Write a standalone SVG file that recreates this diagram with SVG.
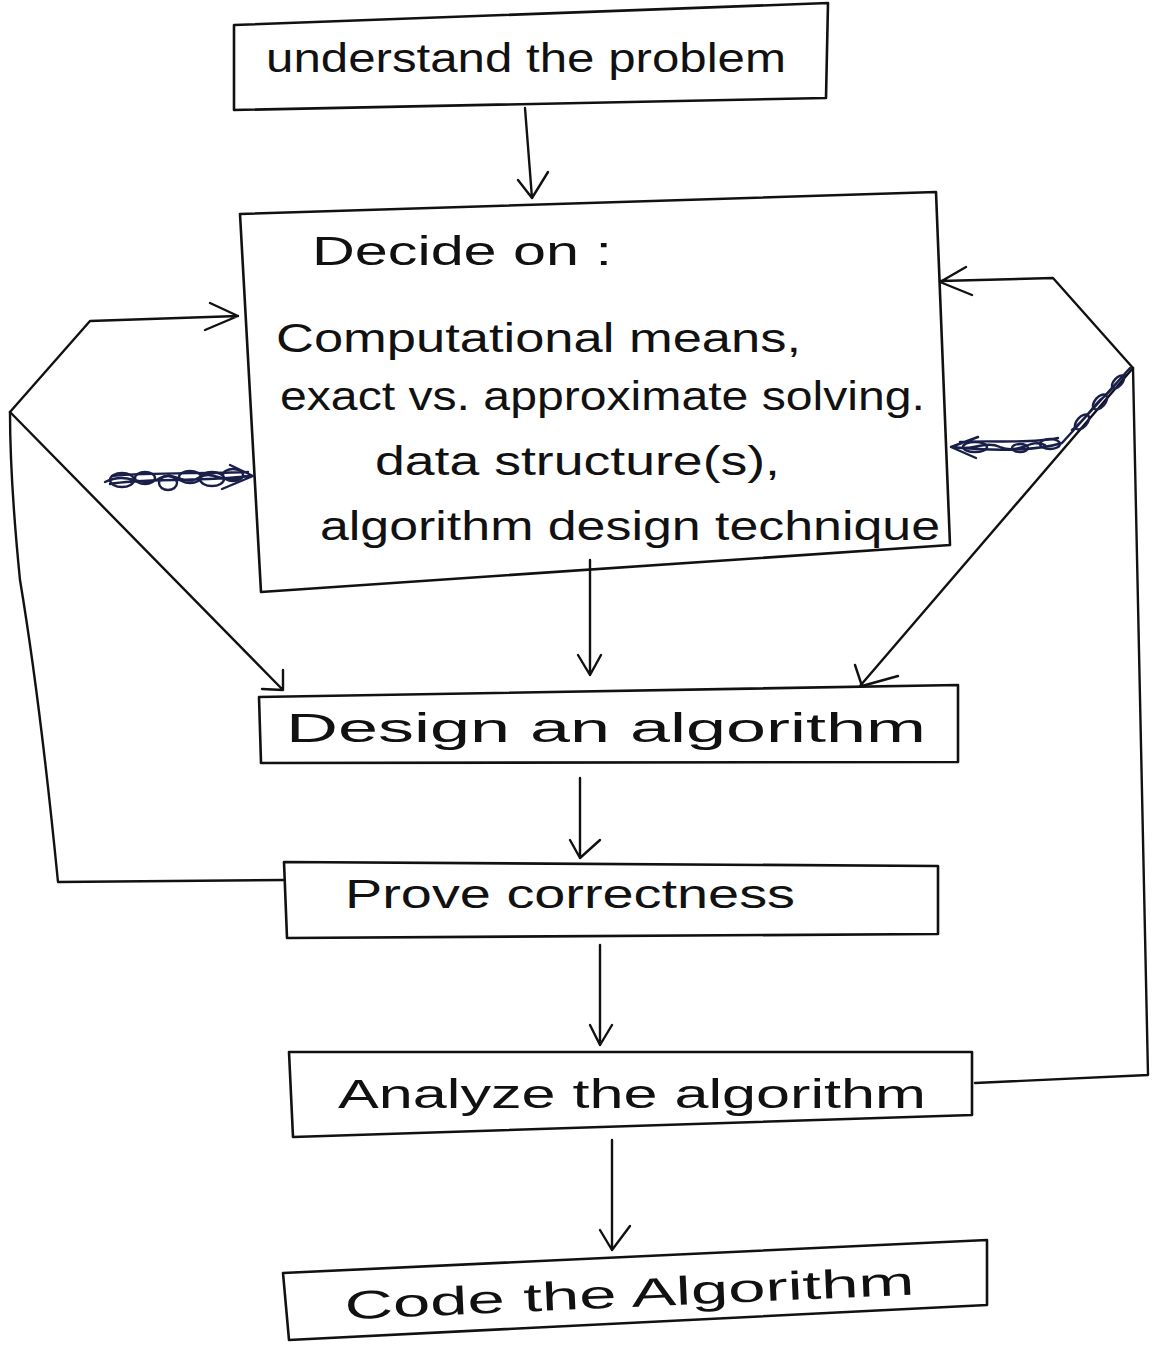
<svg xmlns="http://www.w3.org/2000/svg" width="1159" height="1349" viewBox="0 0 1159 1349">
<style>
.box{fill:none;stroke:#111;stroke-width:2.6;stroke-linejoin:round}
.ln{fill:none;stroke:#111;stroke-width:2.4;stroke-linecap:round;stroke-linejoin:round}
.scr{fill:none;stroke:#1a1f4a;stroke-width:2.4;stroke-linecap:round;stroke-linejoin:round}
.t{font-family:"Liberation Sans","DejaVu Sans",sans-serif;fill:#111;font-size:40px}
</style>
<rect width="1159" height="1349" fill="#fff"/>
<g id="node-understand">
<polygon class="box" points="234,25 828,3 826,98 234,110"/>
<text class="t" x="266" y="72" textLength="520" lengthAdjust="spacingAndGlyphs">understand the problem</text>
</g>
<g id="node-decide">
<polygon class="box" points="240,214 936,192 950,545 261,592"/>
<text class="t" x="312" y="265" textLength="300" lengthAdjust="spacingAndGlyphs">Decide on :</text>
<text class="t" x="276" y="352" textLength="525" lengthAdjust="spacingAndGlyphs">Computational means,</text>
<text class="t" x="280" y="410" textLength="645" lengthAdjust="spacingAndGlyphs">exact vs. approximate solving.</text>
<text class="t" x="375" y="475" textLength="405" lengthAdjust="spacingAndGlyphs">data structure(s),</text>
<text class="t" x="320" y="540" textLength="620" lengthAdjust="spacingAndGlyphs">algorithm design technique</text>
</g>
<g id="node-design">
<polygon class="box" points="259,697 958,685 958,762 261,763"/>
<text class="t" x="286" y="742" textLength="640" lengthAdjust="spacingAndGlyphs">Design an algorithm</text>
</g>
<g id="node-prove">
<polygon class="box" points="284,862 938,866 938,934 287,938"/>
<text class="t" x="345" y="908" textLength="450" lengthAdjust="spacingAndGlyphs">Prove correctness</text>
</g>
<g id="node-analyze">
<polygon class="box" points="289,1052 972,1052 972,1115 293,1137"/>
<text class="t" x="338" y="1108" textLength="588" lengthAdjust="spacingAndGlyphs">Analyze the algorithm</text>
</g>
<g id="node-code">
<polygon class="box" points="283,1273 987,1240 987,1305 289,1340"/>
<text class="t" x="345" y="1307" textLength="570" lengthAdjust="spacingAndGlyphs" transform="rotate(-2.5 630 1307)">Code the Algorithm</text>
</g>
<g id="connectors">
<path class="ln" d="M525,108 L532,198 M518,180 L532,198 L548,172"/>
<path class="ln" d="M590,560 L590,675 M578,655 L590,675 L601,655"/>
<path class="ln" d="M580,778 L580,858 M570,840 L580,858 L600,840"/>
<path class="ln" d="M600,945 L600,1045 M590,1025 L600,1045 L612,1025"/>
<path class="ln" d="M612,1140 L612,1250 M600,1230 L612,1250 L630,1226"/>
<path class="ln" d="M284,880 L58,882 Q40,700 20,580 Q10,480 10,412"/>
<path class="ln" d="M10,412 L90,321 L238,316 M210,303 L238,316 L205,330"/>
<path class="ln" d="M10,412 L283,690 M262,689 L283,690 L283,670"/>
<path class="scr" d="M105,482 C130,470 140,490 160,478 C175,470 185,488 200,477 C215,470 225,486 245,476 M110,484 C140,478 200,482 250,476 M112,476 C150,472 200,474 248,472 M230,465 L253,476 L222,489"/>
<ellipse class="scr" cx="122" cy="480" rx="12" ry="7"/><ellipse class="scr" cx="145" cy="478" rx="10" ry="6"/><ellipse class="scr" cx="168" cy="483" rx="9" ry="7"/><ellipse class="scr" cx="190" cy="477" rx="11" ry="6"/><ellipse class="scr" cx="212" cy="479" rx="12" ry="7"/><ellipse class="scr" cx="233" cy="475" rx="10" ry="6"/>
<path class="ln" d="M975,1083 L1148,1075 L1133,368 L1053,278 L940,281 M966,267 L940,282 L972,295"/>
<path class="ln" d="M1133,368 L860,686 M855,665 L862,686 L898,676"/>
<path class="scr" d="M1130,368 L1062,443 C1040,450 1000,452 952,447 M1125,375 C1115,382 1112,392 1100,400 C1090,410 1085,420 1072,430 M1045,445 C1030,438 1020,455 1000,447 C985,440 970,452 955,447 M960,442 C990,440 1030,444 1058,438 M978,437 L951,447 L976,458"/>
<ellipse class="scr" cx="1118" cy="382" rx="8" ry="4" transform="rotate(-48 1118 382)"/><ellipse class="scr" cx="1100" cy="402" rx="9" ry="5" transform="rotate(-48 1100 402)"/><ellipse class="scr" cx="1082" cy="422" rx="9" ry="5" transform="rotate(-48 1082 422)"/><ellipse class="scr" cx="1050" cy="444" rx="10" ry="5"/><ellipse class="scr" cx="1020" cy="448" rx="8" ry="4"/><ellipse class="scr" cx="975" cy="447" rx="12" ry="5"/>
</g>
</svg>
